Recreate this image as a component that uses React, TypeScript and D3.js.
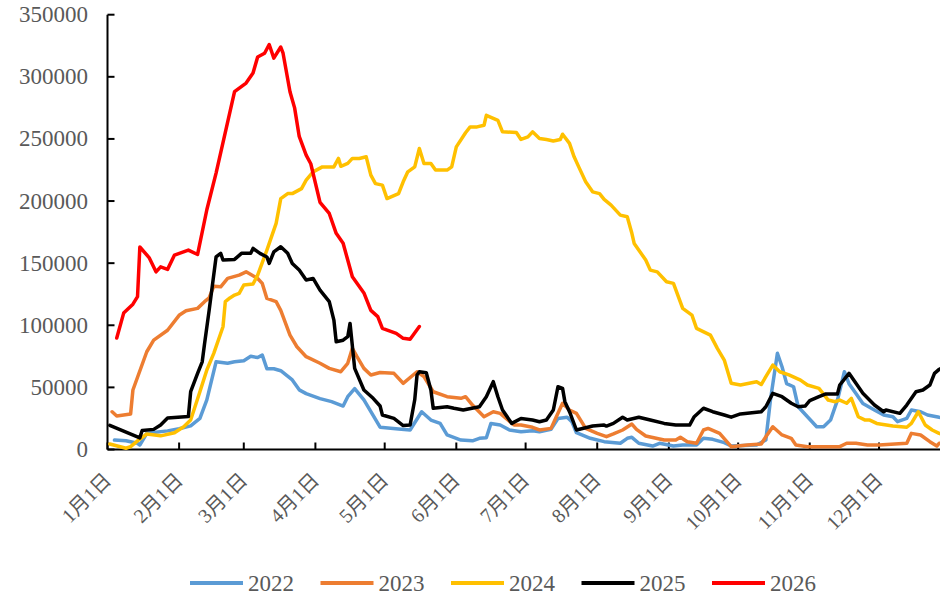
import React, { useRef, useEffect } from "react";
import * as d3 from "d3";

// x axis: day of year, labels at the first of each month
const monthLabels = ["1月1日", "2月1日", "3月1日", "4月1日", "5月1日", "6月1日", "7月1日", "8月1日", "9月1日", "10月1日", "11月1日", "12月1日"];
const monthStartDays = [0, 31, 59, 90, 120, 151, 181, 212, 243, 273, 304, 334];
const yTicks = [0, 50000, 100000, 150000, 200000, 250000, 300000, 350000];

const seriesNames = ["2022", "2023", "2024", "2025", "2026"];
const seriesColors = ["#5B9BD5", "#ED7D31", "#FFC000", "#000000", "#FF0000"];

// [day of year, value]
const s2022: [number, number][] = [
  [3, 7600], [8, 7000], [13, 5000], [14, 3600], [17, 13000], [26, 15000], [31, 16700], [36, 19000],
  [40, 25000], [43, 40000], [47, 70600], [52, 69400], [55, 70600], [59, 71500], [62, 75000], [65, 74000],
  [67, 76000], [69, 65000], [72, 65000], [75, 63400], [80, 56000], [83, 48000], [86, 45000], [92, 41000],
  [97, 38500], [102, 35000], [104, 42500], [107, 49000], [111, 40000], [118, 18000], [126, 16500], [131, 15700],
  [136, 30400], [140, 23700], [144, 21000], [147, 11700], [153, 7600], [158, 7000], [161, 9000], [164, 9500],
  [166, 21000], [170, 19700], [174, 15700], [179, 14300], [184, 15100], [187, 14300], [192, 16200], [195, 25000],
  [199, 26000], [201, 22400], [203, 13500], [209, 9000], [215, 6300], [222, 5000], [225, 9000], [227, 9800],
  [230, 5000], [236, 2800], [239, 5000], [245, 2800], [249, 3600], [255, 3600], [258, 9000], [262, 8200],
  [267, 5500], [270, 2800], [281, 3600], [285, 7600], [287, 40000], [290, 77400], [292, 66600], [294, 53000],
  [297, 50500], [299, 34400], [303, 26400], [307, 18300], [310, 18300], [313, 23700], [316, 39800], [319, 62600],
  [321, 53000], [324, 45000], [327, 37000], [332, 31800], [336, 27800], [340, 26400], [342, 22400], [346, 25000],
  [348, 31800], [352, 30400], [355, 27800], [360, 25900], [362, 25600],
];

const s2023: [number, number][] = [
  [2, 30400], [4, 27000], [10, 28600], [11, 47900], [17, 78700], [20, 88000], [26, 96000], [31, 108000],
  [34, 111700], [39, 113600], [42, 119000], [44, 122000], [46, 131500], [49, 131000], [52, 137700], [57, 140400],
  [60, 143000], [65, 137700], [67, 133700], [69, 121600], [73, 119000], [75, 112000], [79, 92000], [82, 82700],
  [86, 74700], [92, 69400], [96, 65300], [101, 62600], [104, 69400], [106, 81400], [108, 74700], [111, 65300],
  [114, 60000], [118, 62000], [124, 61300], [128, 53300], [134, 62600], [137, 58600], [141, 46500], [147, 42500],
  [153, 41200], [155, 42500], [158, 35800], [163, 26400], [167, 30400], [170, 29100], [176, 19700], [179, 19700],
  [184, 17900], [187, 15700], [192, 17000], [195, 29100], [197, 37200], [200, 31800], [203, 29100], [207, 17000],
  [212, 13000], [216, 10300], [219, 12500], [223, 15700], [227, 20500], [229, 16200], [233, 10900], [241, 7600],
  [246, 7600], [248, 9800], [251, 6300], [255, 5000], [258, 15700], [260, 17000], [265, 13000], [270, 2300],
  [277, 3600], [283, 4400], [285, 10300], [288, 18300], [292, 11700], [296, 9000], [298, 3600], [303, 2300],
  [317, 2300], [320, 5000], [324, 5000], [329, 3600], [334, 3600], [346, 5000], [348, 13000], [352, 11700],
  [356, 6300], [359, 2800], [360, 5000], [362, 5000],
];

const s2024: [number, number][] = [
  [1, 4400], [8, 1000], [10, 2300], [13, 7000], [17, 12500], [23, 11000], [29, 13500], [33, 18300],
  [36, 23700], [40, 46500], [43, 64000], [46, 77400], [50, 98800], [51, 119000], [53, 122000], [55, 124300],
  [57, 125700], [59, 132400], [63, 133200], [65, 140400], [69, 160500], [73, 182000], [75, 202000], [78, 206000],
  [80, 206000], [84, 210000], [86, 216800], [89, 223500], [93, 227500], [98, 227500], [100, 234300], [101, 228000],
  [104, 230300], [106, 234300], [109, 234300], [112, 235600], [114, 220900], [116, 214000], [119, 212800], [121, 202000],
  [126, 206000], [128, 215500], [130, 223500], [133, 227500], [135, 242300], [137, 230300], [140, 230300], [142, 224900],
  [147, 224900], [149, 227500], [151, 243600], [155, 255000], [157, 259700], [160, 259700], [163, 261000], [164, 269000],
  [169, 265000], [171, 255700], [177, 255200], [179, 249600], [182, 251700], [184, 255700], [187, 250400], [190, 249600],
  [193, 248400], [196, 249600], [197, 253800], [200, 246400], [202, 235600], [204, 227500], [207, 215500], [210, 207400],
  [213, 206000], [215, 201300], [218, 196700], [222, 188700], [225, 187300], [227, 174000], [228, 165900], [233, 152500],
  [235, 144400], [238, 143000], [242, 135000], [245, 133700], [249, 113600], [253, 108200], [255, 97500], [261, 92100],
  [264, 81400], [267, 72000], [270, 53300], [274, 51900], [281, 54600], [283, 52300], [285, 58600], [288, 68000],
  [291, 62600], [295, 60000], [300, 55900], [303, 51900], [308, 49200], [312, 39800], [315, 38500], [317, 39800],
  [320, 37200], [322, 41200], [325, 26400], [328, 23700], [330, 23700], [333, 21000], [340, 18900], [346, 17900],
  [348, 21000], [351, 30400], [354, 19700], [357, 15700], [360, 13000], [362, 12000],
];

const s2025: [number, number][] = [
  [1, 19400], [14, 9400], [15, 15300], [20, 16200], [23, 19700], [26, 25300], [35, 26500], [36, 46500],
  [39, 61300], [41, 70600], [42, 85000], [44, 112000], [47, 155000], [49, 157900], [50, 152500], [55, 153000],
  [58, 157900], [62, 157900], [63, 161900], [66, 157900], [69, 155000], [70, 149800], [72, 159100], [75, 163200],
  [78, 157900], [80, 149800], [83, 144400], [86, 136400], [89, 137700], [92, 128300], [96, 119000], [98, 104200],
  [99, 86700], [102, 88000], [104, 90800], [105, 101500], [107, 65300], [111, 47900], [115, 41200], [118, 35000],
  [119, 27800], [124, 25000], [128, 19300], [131, 19700], [133, 40000], [134, 60000], [135, 62600], [138, 61800],
  [140, 47900], [141, 33200], [147, 34400], [150, 33200], [154, 31800], [161, 34400], [164, 42500], [167, 54600],
  [169, 42500], [171, 31800], [175, 21000], [179, 25000], [184, 23700], [187, 22400], [190, 23700], [193, 31800],
  [195, 50500], [197, 49200], [198, 38500], [200, 30400], [203, 15700], [210, 18900], [215, 19700], [216, 18900],
  [219, 21000], [223, 26000], [225, 23700], [230, 26000], [235, 23700], [241, 21000], [246, 19700], [252, 19700],
  [254, 26400], [258, 33200], [262, 30400], [267, 27800], [270, 26000], [274, 28600], [283, 30400], [285, 34400],
  [288, 45200], [292, 42500], [296, 37200], [299, 34400], [302, 35000], [304, 39300], [308, 42500], [311, 44700],
  [316, 44700], [317, 51900], [321, 61300], [324, 53300], [327, 45200], [332, 35800], [336, 30400], [337, 31800],
  [343, 29100], [346, 35800], [350, 46500], [353, 47900], [356, 51900], [358, 61300], [360, 64500], [362, 66000],
];

const s2026: [number, number][] = [
  [4, 89700], [7, 109800], [11, 117000], [13, 123000], [14, 163000], [18, 154500], [21, 143000], [23, 147000],
  [26, 145000], [29, 156500], [35, 160500], [39, 157000], [43, 193000], [47, 222500], [55, 288000], [60, 295000],
  [63, 303000], [65, 316000], [68, 319000], [70, 326000], [72, 315000], [75, 324000], [76, 319000], [79, 288000],
  [81, 275000], [83, 252000], [86, 237000], [88, 230000], [92, 199000], [96, 190000], [99, 174000], [102, 166000],
  [104, 152500], [106, 139000], [111, 126000], [114, 112000], [117, 107000], [119, 97500], [125, 93500], [128, 89500],
  [131, 88700], [135, 99000],
];

const allSeries = [s2022, s2023, s2024, s2025, s2026];

const FONT = '"Liberation Serif", "Times New Roman", "Noto Sans CJK SC", serif';
const GREY = "#595959";

const Chart = () => {
  const ref = useRef<HTMLDivElement>(null);

  useEffect(() => {
    if (!ref.current) return;

    const width = 940;
    const height = 596;
    const left = 107.5;
    const top = 14.7;
    const bottom = 449.5;

    const svg = d3
      .select(ref.current)
      .append("svg")
      .attr("width", width)
      .attr("height", height)
      .style("position", "absolute")
      .style("left", "0px")
      .style("top", "0px")
      .style("background", "#fff");

    const x = d3.scaleLinear().domain([0, 365]).range([left, left + 365 * 2.31]);
    const y = d3.scaleLinear().domain([0, 350000]).range([bottom, top]);

    // y axis
    svg
      .append("line")
      .attr("x1", left)
      .attr("x2", left)
      .attr("y1", top)
      .attr("y2", bottom)
      .attr("stroke", "#000")
      .attr("stroke-width", 2);

    yTicks.forEach((t) => {
      svg
        .append("line")
        .attr("x1", left)
        .attr("x2", left + 7)
        .attr("y1", y(t))
        .attr("y2", y(t))
        .attr("stroke", "#000")
        .attr("stroke-width", 2);
      svg
        .append("text")
        .attr("x", 88)
        .attr("y", y(t))
        .attr("text-anchor", "end")
        .attr("dominant-baseline", "central")
        .attr("font-family", FONT)
        .attr("font-size", 23)
        .attr("fill", GREY)
        .text(String(t));
    });

    // x axis
    svg
      .append("line")
      .attr("x1", left)
      .attr("x2", x(365))
      .attr("y1", bottom)
      .attr("y2", bottom)
      .attr("stroke", "#000")
      .attr("stroke-width", 2);

    monthStartDays.forEach((d, i) => {
      svg
        .append("line")
        .attr("x1", x(d))
        .attr("x2", x(d))
        .attr("y1", bottom)
        .attr("y2", bottom - 7)
        .attr("stroke", "#000")
        .attr("stroke-width", 2);
      svg
        .append("text")
        .attr("transform", `translate(${x(d)},${bottom + 27}) rotate(-45)`)
        .attr("text-anchor", "end")
        .attr("dominant-baseline", "central")
        .attr("font-family", FONT)
        .attr("font-size", 20)
        .attr("fill", GREY)
        .text(monthLabels[i]);
    });

    const line = d3
      .line<[number, number]>()
      .x((d) => x(d[0]))
      .y((d) => y(d[1]));

    allSeries.forEach((s, i) => {
      svg
        .append("path")
        .attr("d", line(s))
        .attr("fill", "none")
        .attr("stroke", seriesColors[i])
        .attr("stroke-width", 3.5)
        .attr("stroke-linejoin", "round")
        .attr("stroke-linecap", "round");
    });

    // legend
    const legend = svg.append("g");
    seriesNames.forEach((name, i) => {
      const lx = 190 + i * 130.5;
      legend
        .append("line")
        .attr("x1", lx)
        .attr("x2", lx + 53)
        .attr("y1", 583)
        .attr("y2", 583)
        .attr("stroke", seriesColors[i])
        .attr("stroke-width", 4);
      legend
        .append("text")
        .attr("x", lx + 58)
        .attr("y", 583)
        .attr("dominant-baseline", "central")
        .attr("font-family", FONT)
        .attr("font-size", 23)
        .attr("fill", GREY)
        .text(name);
    });

    return () => {
      svg.remove();
    };
  }, []);

  return <div ref={ref}></div>;
};

export default function App() {
  return <Chart />;
}
